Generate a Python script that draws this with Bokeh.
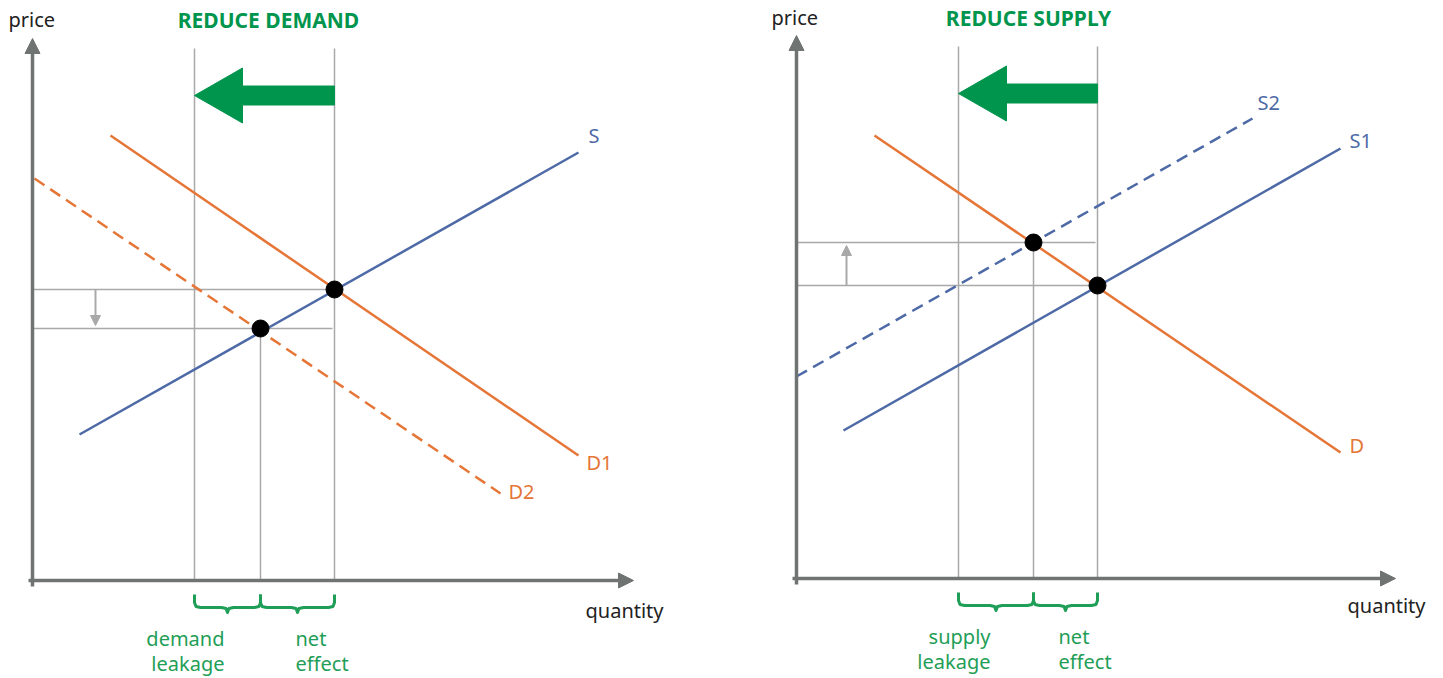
from bokeh.plotting import figure
from bokeh.layouts import row
from bokeh.models import Range1d, Arrow, NormalHead
from bokeh.core.properties import value
from bokeh.embed import file_html
from bokeh.resources import INLINE

# ---------------- data (quantity, price in chart units) ----------------
# Left panel: reduce demand
L_title = "REDUCE DEMAND"
L_S_q = [4.7, 54.6]
L_S_p = [14.6, 42.8]
L_D1_q = [7.8, 54.6]
L_D1_p = [44.5, 12.5]
L_D2_q = [0.2, 46.8]
L_D2_p = [40.2, 8.7]
L_eq_q = [30.2, 22.8]      # original, new equilibrium quantity
L_eq_p = [29.1, 25.2]      # original, new equilibrium price
L_policy_q = 16.2          # quantity targeted by the policy
L_labels = ["S", "D1", "D2"]
L_label_q = [55.6, 55.4, 47.6]
L_label_p = [44.5, 11.8, 8.9]
L_leak_text = ["demand", "leakage"]

# Right panel: reduce supply
R_title = "REDUCE SUPPLY"
R_S1_q = [4.7, 54.4]
R_S1_p = [14.8, 43.0]
R_S2_q = [0.0, 45.6]
R_S2_p = [20.2, 46.0]
R_D_q = [7.8, 54.4]
R_D_p = [44.3, 12.6]
R_eq_q = [30.1, 23.7]
R_eq_p = [29.3, 33.6]
R_policy_q = 16.2
R_labels = ["S1", "S2", "D"]
R_label_q = [55.3, 46.1, 55.3]
R_label_p = [43.8, 47.6, 13.3]
R_leak_text = ["supply", "leakage"]

NET_TEXT = ["net", "effect"]

BLUE = "#4e6aa6"
ORANGE = "#e57637"
GREEN = "#00954d"
GREEN_T = "#1f9e57"
GUIDE = "#a9a9a9"
AXIS = "#6f7472"
FONT = value("Noto Sans")
H = 678


def make_panel(width, x0, x1, y0, y1, title, title_q, curves, eq_q, eq_p, policy_q,
               labels, label_q, label_p, leak_text, leak_right, net_left, small_arrow_q,
               axis_top, axis_right, ylabel_q, xlabel_q, xlabel_p):
    p = figure(width=width, height=H, x_range=Range1d(x0, x1), y_range=Range1d(y0, y1),
               output_backend="svg", toolbar_location=None, min_border=0,
               x_axis_location=None, y_axis_location=None, outline_line_color=None)
    p.grid.visible = False
    top = 53.2
    q_orig, q_new = eq_q
    p_orig, p_new = eq_p

    # guide lines
    p.segment(x0=[policy_q, q_orig, q_new, 0, 0], y0=[0, 0, 0, p_orig, p_new],
              x1=[policy_q, q_orig, q_new, q_orig, q_orig - 0.2],
              y1=[top, top, p_new, p_orig, p_new],
              line_color=GUIDE, line_width=1.5)

    # small price-change arrow
    dirn = 1 if p_new > p_orig else -1
    p.add_layout(Arrow(x_start=small_arrow_q, y_start=p_orig, x_end=small_arrow_q,
                       y_end=p_new - dirn * 0.3,
                       end=NormalHead(size=10, fill_color=GUIDE, line_color=GUIDE),
                       line_color=GUIDE, line_width=2))

    # curves
    for (qs, ps, col, dash) in curves:
        p.line(qs, ps, line_color=col, line_width=2.5, line_dash=dash)

    # equilibrium points
    p.scatter(eq_q, eq_p, size=17, fill_color="black", line_color="black")

    # axes with arrows
    p.add_layout(Arrow(x_start=0, y_start=-0.6, x_end=0, y_end=axis_top,
                       end=NormalHead(size=15, fill_color=AXIS, line_color=AXIS),
                       line_color=AXIS, line_width=3.5))
    p.add_layout(Arrow(x_start=-0.4, y_start=0, x_end=axis_right, y_end=0,
                       end=NormalHead(size=15, fill_color=AXIS, line_color=AXIS),
                       line_color=AXIS, line_width=3.5))
    p.text([ylabel_q], [56.1], text=["price"], text_font=FONT, text_font_size="20px",
           text_baseline="middle", text_align="left", text_color="#222222")
    p.text([xlabel_q], [xlabel_p], text=["quantity"], text_font=FONT, text_font_size="20px",
           text_baseline="middle", text_align="left", text_color="#222222")

    # title
    p.text([title_q], [56.1], text=[title], text_font=FONT, text_font_size="21px",
           text_font_style="bold", text_baseline="middle", text_align="center",
           text_color=GREEN)

    # big green shift arrow
    ay = 48.5
    head_base = policy_q + 4.8
    p.patch([policy_q, head_base, head_base, q_orig, q_orig, head_base, head_base],
            [ay, ay + 2.75, ay + 0.95, ay + 0.95, ay - 0.95, ay - 0.95, ay - 2.75],
            fill_color=GREEN, line_color=GREEN)

    # curve labels
    col_map = [c[2] for c in curves]
    p.text(label_q, label_p, text=labels, text_font=FONT, text_font_size="20px",
           text_baseline="middle", text_align="left", text_color=col_map)

    # braces
    def brace(a, b):
        yt, yb, tip = -1.4, -2.7, -3.2
        m = (a + b) / 2
        xs = [a, a, a + 0.15, a + 0.6, m - 0.6, m - 0.15, m, m + 0.15, m + 0.6,
              b - 0.6, b - 0.15, b, b]
        ys = [yt, yb + 0.5, yb + 0.1, yb, yb, yb - 0.1, tip, yb - 0.1, yb,
              yb, yb + 0.1, yb + 0.5, yt]
        return xs, ys
    for a, b in [(policy_q, q_new), (q_new, q_orig)]:
        xs, ys = brace(a, b)
        p.line(xs, ys, line_color=GREEN_T, line_width=3, line_join="round")

    p.text([leak_right] * 2, [-5.8, -8.3], text=leak_text, text_font=FONT,
           text_font_size="20px", text_baseline="middle", text_align="right",
           text_color=GREEN_T)
    p.text([net_left] * 2, [-5.8, -8.3], text=NET_TEXT, text_font=FONT,
           text_font_size="20px", text_baseline="middle", text_align="left",
           text_color=GREEN_T)
    return p


left = make_panel(728, -3.2, 69.6, -9.8, 58.0, L_title, 23.6,
                  [(L_S_q, L_S_p, BLUE, "solid"), (L_D1_q, L_D1_p, ORANGE, "solid"),
                   (L_D2_q, L_D2_p, ORANGE, "12 7")],
                  L_eq_q, L_eq_p, L_policy_q, L_labels, L_label_q, L_label_p,
                  L_leak_text, 19.2, 26.3, 6.3, 54.2, 60.1, -2.4, 55.3, -3.0)

right = make_panel(712, -6.8, 64.4, -10.0, 57.8, R_title, 23.2,
                   [(R_S1_q, R_S1_p, BLUE, "solid"), (R_S2_q, R_S2_p, BLUE, "12 7"),
                    (R_D_q, R_D_p, ORANGE, "solid")],
                   R_eq_q, R_eq_p, R_policy_q, R_labels, R_label_q, R_label_p,
                   R_leak_text, 19.4, 26.2, 5.0, 54.3, 59.9, -2.5, 55.1, -2.7)

layout = row(left, right)
open("out.html", "w").write(file_html(layout, INLINE))
